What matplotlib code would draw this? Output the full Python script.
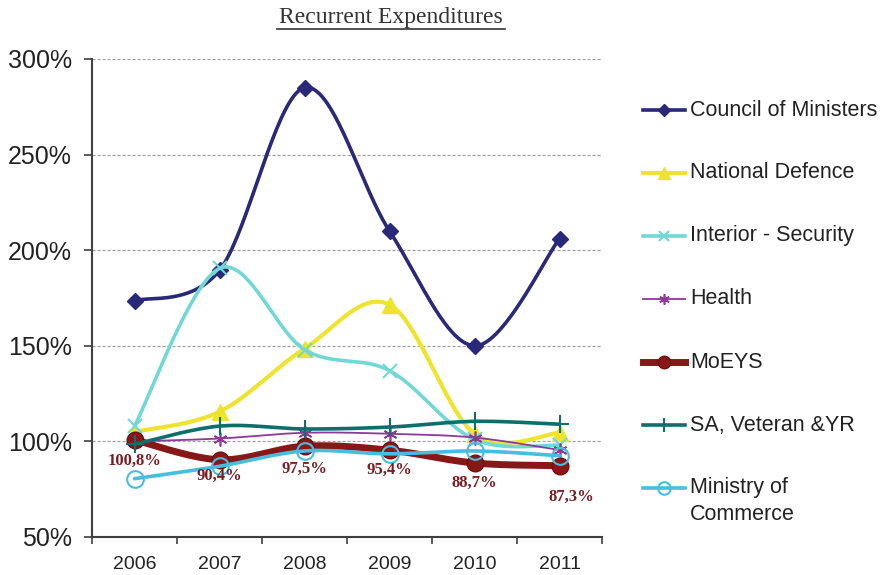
import numpy as np
import matplotlib
matplotlib.use("Agg")
import matplotlib.pyplot as plt
from matplotlib.lines import Line2D
from matplotlib.ticker import FixedLocator, FuncFormatter

years = [2006, 2007, 2008, 2009, 2010, 2011]

council_of_ministers = [173.5, 189.5, 285.0, 210.0, 150.0, 206.0]
national_defence = [105.0, 115.5, 148.5, 171.5, 104.0, 104.5]
interior_security = [108.0, 190.5, 148.0, 137.0, 101.0, 98.0]
health = [100.0, 101.5, 104.5, 104.0, 102.0, 95.5]
moeys = [100.8, 90.4, 97.5, 95.4, 88.7, 87.3]
sa_veteran_yr = [98.5, 108.0, 106.5, 107.5, 110.5, 109.0]
ministry_of_commerce = [80.5, 87.0, 95.0, 93.5, 95.0, 92.5]

series_names = ["Council of Ministers", "National Defence", "Interior - Security",
                "Health", "MoEYS", "SA, Veteran &YR", "Ministry of\nCommerce"]

y_ticks = [50, 100, 150, 200, 250, 300]

plt.rcParams["font.family"] = ["Liberation Sans", "DejaVu Sans"]

fig = plt.figure(figsize=(8.86, 5.75), dpi=100)
ax = fig.add_axes([92 / 886, 38 / 575, 510 / 886, 478 / 575])


def smooth(xs, ys, n=40):
    """Excel-style smoothed line: cubic Bezier segments through each point."""
    p = np.column_stack([xs, ys]).astype(float)
    pts = np.vstack([p[0], p, p[-1]])
    out = []
    t = np.linspace(0, 1, n)[:, None]
    for i in range(1, len(pts) - 2):
        p0, p1, p2, p3 = pts[i - 1], pts[i], pts[i + 1], pts[i + 2]
        c1 = p1 + (p2 - p0) / 6.0
        c2 = p2 - (p3 - p1) / 6.0
        seg = ((1 - t) ** 3) * p1 + 3 * ((1 - t) ** 2) * t * c1 + 3 * (1 - t) * t ** 2 * c2 + t ** 3 * p2
        out.append(seg if i == 1 else seg[1:])
    out = np.vstack(out)
    return out[:, 0], out[:, 1]


x = np.arange(len(years))

styles = [
    dict(color="#2A2878", lw=2.6, marker="D", ms=8, mfc="#2A2878", mec="#2A2878", mew=1),
    dict(color="#EEE42E", lw=3.0, marker="^", ms=11, mfc="#EEE42E", mec="#EEE42E", mew=1),
    dict(color="#72D8D6", lw=2.6, marker="x", ms=10, mfc="none", mec="#72D8D6", mew=1.5),
    dict(color="#8C3A98", lw=1.3, marker=(6, 2, 0), ms=10, mfc="none", mec="#8C3A98", mew=1.2),
    dict(color="#881818", lw=5.0, marker="o", ms=12, mfc="#881818", mec="#6E1010", mew=1),
    dict(color="#0F6E6C", lw=2.6, marker="+", ms=13, mfc="none", mec="#0F6E6C", mew=1.5),
    dict(color="#49BDE0", lw=2.6, marker="o", ms=12, mfc="none", mec="#49BDE0", mew=1.5),
]

all_series = [council_of_ministers, national_defence, interior_security, health,
              moeys, sa_veteran_yr, ministry_of_commerce]

for i, (vals, st) in enumerate(zip(all_series, styles)):
    sx, sy = smooth(x, vals)
    ax.plot(sx, sy, color=st["color"], lw=st["lw"], solid_capstyle="round", zorder=3 + i)
    ax.plot(x, vals, ls="none", marker=st["marker"], ms=st["ms"], mfc=st["mfc"],
            mec=st["mec"], mew=st["mew"], zorder=3 + i)

# Value labels for MoEYS (offsets in pixels below each point)
label_offsets = [(0, -21), (0, -16), (0, -23), (0, -20), (0, -20), (12, -31)]
for xi, v, (dx, dy) in zip(x, moeys, label_offsets):
    ax.annotate(f"{v:.1f}%".replace(".", ","), (xi, v), xytext=(dx * 0.72, dy * 0.72),
                textcoords="offset points", ha="center", va="center",
                family=["Liberation Serif", "DejaVu Serif"], fontweight="bold",
                fontsize=12, color="#7A1C22", zorder=20)

ax.set_xlim(-0.5, len(years) - 0.5)
ax.set_ylim(50, 300)
ax.set_xticks(x)
ax.set_xticklabels([str(y) for y in years], fontsize=14, color="#222222")
ax.xaxis.set_minor_locator(FixedLocator(np.arange(-0.5, len(years), 1.0)))
ax.tick_params(axis="x", which="major", length=0, pad=14)
ax.tick_params(axis="x", which="minor", length=5, width=1.2, color="#404040", direction="out")
ax.set_yticks(y_ticks)
ax.yaxis.set_major_formatter(FuncFormatter(lambda v, _: f"{v:.0f}%"))
ax.tick_params(axis="y", length=6, width=1.2, color="#404040", labelsize=18,
               labelcolor="#222222", pad=8.5)

for gy in y_ticks[1:]:
    ax.axhline(gy, color="#A0A0A0", lw=0.9, ls=(0, (2.5, 1.5)), zorder=1)

for side in ["top", "right"]:
    ax.spines[side].set_visible(False)
for side in ["left", "bottom"]:
    ax.spines[side].set_color("#404040")
    ax.spines[side].set_linewidth(1.5)

# Title with underline
fig.text(391 / 886, 1 - 17 / 575, "Recurrent Expenditures", ha="center", va="center",
         family=["Liberation Serif", "DejaVu Serif"], fontsize=17, color="#333333")
fig.add_artist(Line2D([277 / 886, 505 / 886], [1 - 29 / 575, 1 - 29 / 575],
                      color="#333333", lw=1.2))

# Legend
legend_y = [110, 173, 236, 299, 362, 425, 488]
for name, st, ly in zip(series_names, styles, legend_y):
    yf = 1 - ly / 575
    fig.add_artist(Line2D([643 / 886, 685 / 886], [yf, yf], color=st["color"],
                          lw=st["lw"]))
    fig.add_artist(Line2D([664 / 886], [yf], ls="none", marker=st["marker"],
                          ms=st["ms"] * 0.75, mfc=st["mfc"], mec=st["mec"], mew=st["mew"]))
    fig.text(690 / 886, yf, name.split("\n")[0], ha="left", va="center",
             fontsize=15.5, color="#222222")
    if "\n" in name:
        fig.text(690 / 886, 1 - (ly + 26) / 575, name.split("\n")[1], ha="left",
                 va="center", fontsize=15.5, color="#222222")

fig.savefig("out.png", dpi=100)
